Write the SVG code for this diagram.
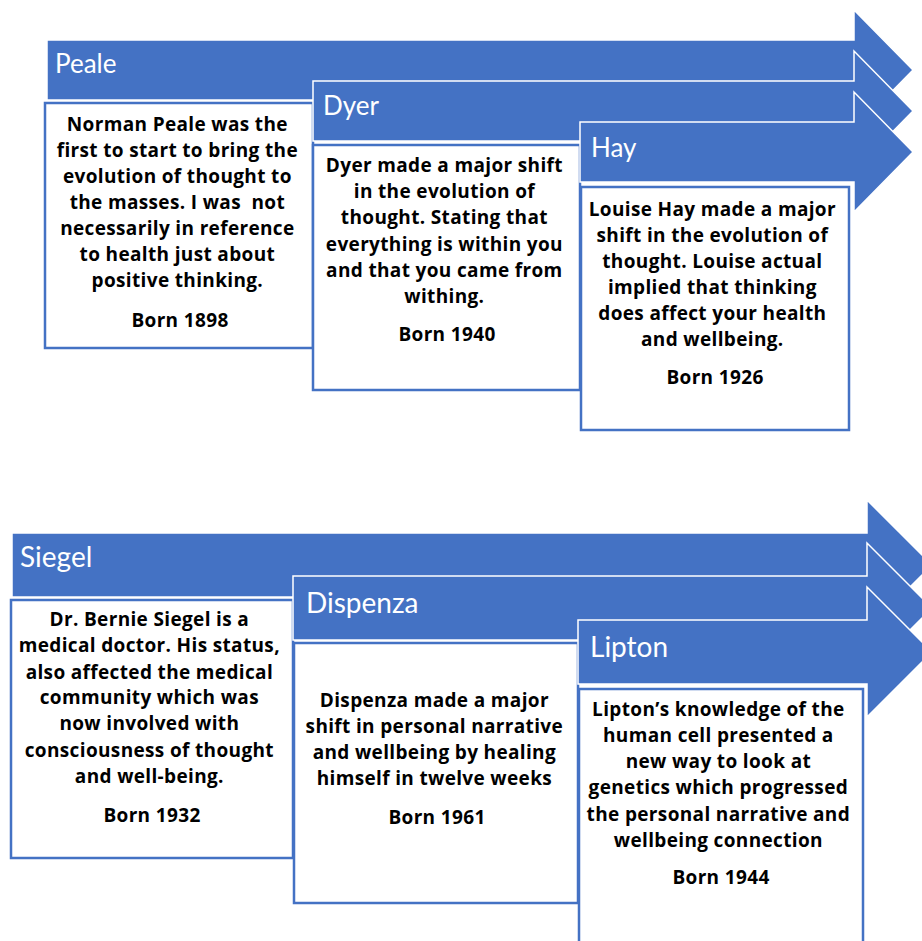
<svg xmlns="http://www.w3.org/2000/svg" width="922" height="941" viewBox="0 0 922 941">
  <style>
    .arrow { fill: #4472C4; stroke: #FFFFFF; stroke-width: 1.5; }
    .box { fill: #FFFFFF; stroke: #4472C4; stroke-width: 2.5; }
    .title { font-family: Lato, "Liberation Sans", sans-serif; font-size: 26px; fill: #FFFFFF; }
    .title-lg { font-size: 28px; }
    .body { font-family: "Open Sans", "Liberation Sans", sans-serif; font-size: 19px; letter-spacing: 0.35px; font-weight: bold; fill: #000000; text-anchor: middle; }
  </style>
  <rect x="0" y="0" width="922" height="941" fill="#FFFFFF"/>

  <!-- upper timeline -->
  <g id="peale">
    <path class="arrow" d="M47,40 H854 V10 L913,70 L854,130 V100 H47 Z"/>
    <text class="title" x="55" y="73">Peale</text>
    <rect class="box" x="45" y="103" width="268" height="245"/>
    <text class="body" x="180">
      <tspan x="180" y="131">Norman Peale was the</tspan>
      <tspan x="180" y="157">first to start to bring the</tspan>
      <tspan x="180" y="183">evolution of thought to</tspan>
      <tspan x="180" y="209">the masses. I was&#160; not</tspan>
      <tspan x="180" y="235">necessarily in reference</tspan>
      <tspan x="180" y="261">to health just about</tspan>
      <tspan x="180" y="287">positive thinking.</tspan>
      <tspan x="180" y="327">Born 1898</tspan>
    </text>
  </g>

  <g id="dyer">
    <path class="arrow" d="M313,81 H854 V51 L913,111 L854,171 V141 H313 Z"/>
    <text class="title" x="323" y="115">Dyer</text>
    <rect class="box" x="313" y="145" width="267" height="245"/>
    <text class="body" x="447">
      <tspan x="447" y="172">Dyer made a major shift</tspan>
      <tspan x="447" y="198">in the evolution of</tspan>
      <tspan x="447" y="224">thought. Stating that</tspan>
      <tspan x="447" y="251">everything is within you</tspan>
      <tspan x="447" y="277">and that you came from</tspan>
      <tspan x="447" y="303">withing.</tspan>
      <tspan x="447" y="341">Born 1940</tspan>
    </text>
  </g>

  <g id="hay">
    <path class="arrow" d="M580,122 H854 V92 L913,152 L854,212 V182 H580 Z"/>
    <text class="title" x="591" y="157">Hay</text>
    <rect class="box" x="581" y="187" width="268" height="243"/>
    <text class="body" x="715">
      <tspan x="715" y="216">Louise Hay made a major</tspan>
      <tspan x="715" y="242">shift in the evolution of</tspan>
      <tspan x="715" y="268">thought. Louise actual</tspan>
      <tspan x="715" y="294">implied that thinking</tspan>
      <tspan x="715" y="320">does affect your health</tspan>
      <tspan x="715" y="346">and wellbeing.</tspan>
      <tspan x="715" y="384">Born 1926</tspan>
    </text>
  </g>

  <!-- lower timeline -->
  <g id="siegel">
    <path class="arrow" d="M12,533 H867 V500 L932,565 L867,630 V597 H12 Z"/>
    <text class="title title-lg" x="20" y="567">Siegel</text>
    <rect class="box" x="11" y="600" width="282" height="258"/>
    <text class="body" x="152">
      <tspan x="152" y="626">Dr. Bernie Siegel is a</tspan>
      <tspan x="152" y="652">medical doctor. His status,</tspan>
      <tspan x="152" y="679">also affected the medical</tspan>
      <tspan x="152" y="704">community which was</tspan>
      <tspan x="152" y="730">now involved with</tspan>
      <tspan x="152" y="757">consciousness of thought</tspan>
      <tspan x="152" y="783">and well-being.</tspan>
      <tspan x="152" y="822">Born 1932</tspan>
    </text>
  </g>

  <g id="dispenza">
    <path class="arrow" d="M293,576 H867 V543 L932,608 L867,673 V640 H293 Z"/>
    <text class="title title-lg" x="306" y="613">Dispenza</text>
    <rect class="box" x="294" y="643" width="284" height="260"/>
    <text class="body" x="437">
      <tspan x="437" y="707">Dispenza made a major</tspan>
      <tspan x="437" y="733">shift in personal narrative</tspan>
      <tspan x="437" y="759">and wellbeing by healing</tspan>
      <tspan x="437" y="785">himself in twelve weeks</tspan>
      <tspan x="437" y="824">Born 1961</tspan>
    </text>
  </g>

  <g id="lipton">
    <path class="arrow" d="M578,620 H867 V587 L932,652 L867,717 V684 H578 Z"/>
    <text class="title title-lg" x="590" y="657">Lipton</text>
    <rect class="box" x="579" y="689" width="284" height="260"/>
    <text class="body" x="721">
      <tspan x="721" y="716">Lipton’s knowledge of the</tspan>
      <tspan x="721" y="742">human cell presented a</tspan>
      <tspan x="721" y="768">new way to look at</tspan>
      <tspan x="721" y="794">genetics which progressed</tspan>
      <tspan x="721" y="821">the personal narrative and</tspan>
      <tspan x="721" y="847">wellbeing connection</tspan>
      <tspan x="721" y="884">Born 1944</tspan>
    </text>
  </g>

  <!-- the timeline has no separate connectors: the arrows themselves carry the sequence -->
  <g id="connectors"/>
</svg>
